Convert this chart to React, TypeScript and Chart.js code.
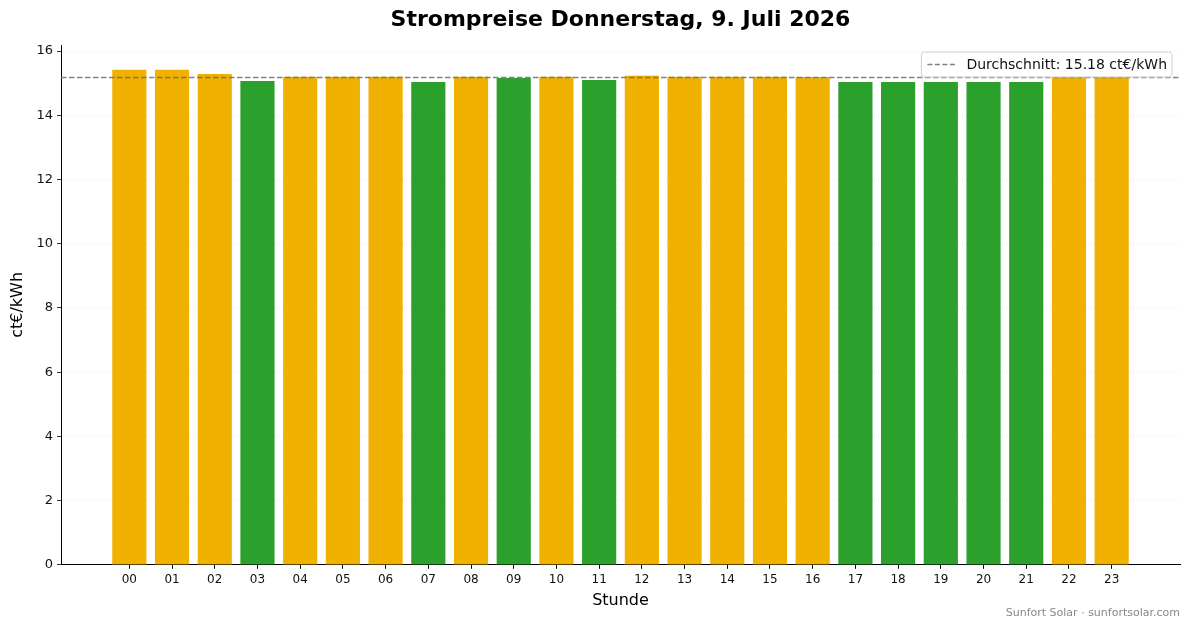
import { useEffect, useRef } from 'react';
import { Chart, registerables } from 'chart.js';
import type { Plugin } from 'chart.js';

Chart.register(...registerables);

const HOURS = ['00', '01', '02', '03', '04', '05', '06', '07', '08', '09', '10', '11',
  '12', '13', '14', '15', '16', '17', '18', '19', '20', '21', '22', '23'];
const PRICES = [15.42, 15.42, 15.29, 15.07, 15.2, 15.2, 15.2, 15.04, 15.2, 15.16, 15.2, 15.1,
  15.23, 15.2, 15.2, 15.2, 15.19, 15.04, 15.04, 15.04, 15.04, 15.04, 15.19, 15.19];
const Y_TICKS = [0, 2, 4, 6, 8, 10, 12, 14, 16];
const AVG = 15.18;

const TITLE = 'Strompreise Donnerstag, 9. Juli 2026';
const FOOTER = 'Sunfort Solar · sunfortsolar.com';
const AVG_LABEL = `Durchschnitt: ${AVG.toFixed(2)} ct€/kWh`;

const ORANGE = '#f0b101';
const GREEN = '#2ca02c';
const FONT = '"DejaVu Sans", sans-serif';
const X_MIN = -1.6;
const X_MAX = 24.6;

// matplotlib-style legend box in the upper right of the plot
const avgLegend: Plugin<'bar'> = {
  id: 'avgLegend',
  afterDraw(chart) {
    const { ctx, chartArea } = chart;
    ctx.save();
    ctx.font = `14px ${FONT}`;
    const tw = ctx.measureText(AVG_LABEL).width;
    const w = tw + 50;
    const h = 25;
    const x = chartArea.right - 8 - w;
    const y = chartArea.top + 7;
    ctx.beginPath();
    ctx.roundRect(x, y, w, h, 3);
    ctx.fillStyle = 'rgba(255,255,255,0.85)';
    ctx.fill();
    ctx.strokeStyle = '#d0d0d0';
    ctx.lineWidth = 1;
    ctx.stroke();
    ctx.beginPath();
    ctx.setLineDash([5, 2.5]);
    ctx.strokeStyle = '#808080';
    ctx.lineWidth = 1.5;
    ctx.moveTo(x + 6, y + h / 2);
    ctx.lineTo(x + 34, y + h / 2);
    ctx.stroke();
    ctx.setLineDash([]);
    ctx.fillStyle = '#111';
    ctx.textBaseline = 'middle';
    ctx.fillText(AVG_LABEL, x + 45, y + h / 2 + 0.5);
    ctx.restore();
  },
};

export default function App() {
  const ref = useRef<HTMLCanvasElement>(null);

  useEffect(() => {
    document.body.style.margin = '0';
    if (!ref.current) return;
    const chart = new Chart(ref.current, {
      type: 'bar',
      data: {
        datasets: [
          {
            type: 'bar',
            label: 'Preis',
            data: PRICES.map((p, i) => ({ x: i, y: p })),
            backgroundColor: PRICES.map((p) => (p < AVG ? GREEN : ORANGE)),
            categoryPercentage: 0.8,
            barPercentage: 1,
            order: 2,
          },
          {
            type: 'line',
            label: AVG_LABEL,
            data: [{ x: X_MIN, y: AVG }, { x: X_MAX, y: AVG }],
            borderColor: 'rgba(110,110,110,0.85)',
            borderWidth: 1.5,
            borderDash: [5.5, 2.5],
            pointRadius: 0,
            order: 1,
          } as any,
        ],
      },
      options: {
        responsive: false,
        animation: false,
        layout: { padding: { left: 0, right: 13, top: 0, bottom: 0 } },
        plugins: {
          legend: { display: false },
          tooltip: { enabled: false },
          title: {
            display: true,
            text: TITLE,
            color: '#000',
            fullSize: false,
            font: { family: FONT, size: 22, weight: 'bold' },
            padding: { top: 7, bottom: 11.6 },
          },
          subtitle: {
            display: true,
            position: 'bottom',
            align: 'end',
            text: FOOTER,
            color: '#888',
            font: { family: FONT, size: 11 },
            padding: { top: 0, bottom: 8 },
          },
        },
        scales: {
          x: {
            type: 'linear',
            min: X_MIN,
            max: X_MAX,
            offset: false,
            afterBuildTicks: (s) => { s.ticks = HOURS.map((_, i) => ({ value: i })); },
            afterFit: (s) => { s.height = 42; },
            grid: { offset: false, drawOnChartArea: false, tickLength: 4, tickColor: '#000' },
            border: { color: '#000', width: 1 },
            ticks: {
              color: '#111',
              font: { family: FONT, size: 12 },
              padding: 4,
              maxRotation: 0,
              autoSkip: false,
              callback: (v) => HOURS[Number(v)] ?? '',
            },
            title: {
              display: true,
              text: 'Stunde',
              color: '#000',
              font: { family: FONT, size: 16, lineHeight: 0.8 },
              padding: { top: 0, bottom: 0 },
            },
          },
          y: {
            min: 0,
            max: 16.19,
            afterBuildTicks: (s) => { s.ticks = Y_TICKS.map((v) => ({ value: v })); },
            afterFit: (s) => { s.width = 61; },
            grid: { color: '#dcdcdc', lineWidth: 0.8, tickLength: 4, tickColor: '#000' },
            border: { color: '#000', width: 1, dash: [1, 3] },
            ticks: {
              color: '#111',
              font: { family: FONT, size: 13 },
              padding: 4,
            },
            title: {
              display: true,
              text: 'ct€/kWh',
              color: '#000',
              font: { family: FONT, size: 16, lineHeight: 1.2 },
              padding: { top: 8, bottom: 0 },
            },
          },
        },
      },
      plugins: [avgLegend],
    });
    return () => chart.destroy();
  }, []);

  return (
    <div style={{ width: 1193, height: 628, background: '#fff' }}>
      <canvas ref={ref} width={1193} height={628} />
    </div>
  );
}
